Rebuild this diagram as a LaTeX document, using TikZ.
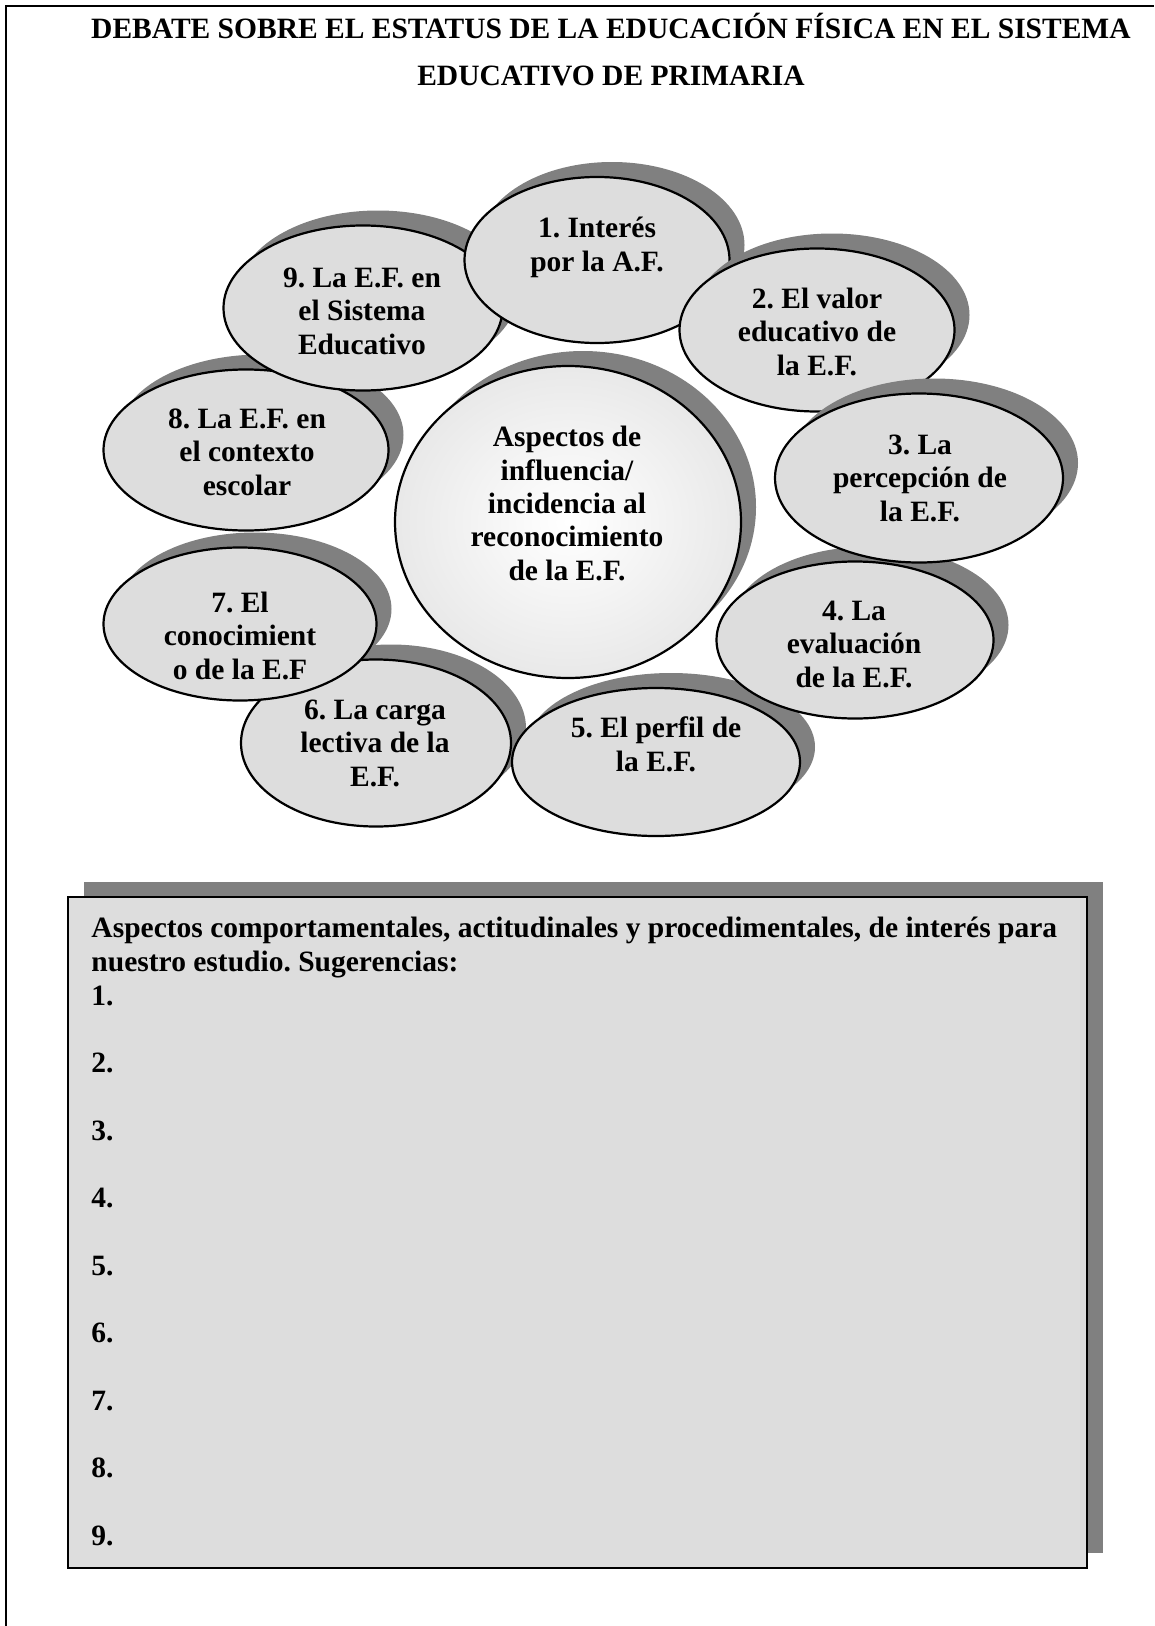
\documentclass[tikz,border=0pt]{standalone}
\usepackage{fontspec}
\setmainfont{Liberation Serif}
\usetikzlibrary{shapes.geometric,shadows}
\definecolor{bubfill}{HTML}{DDDDDD}
\definecolor{shade}{HTML}{808080}
\definecolor{hubedge}{HTML}{D2D2D2}
\pgfdeclareradialshading{hubshade}{\pgfpointorigin}{color(0bp)=(white); color(6bp)=(white!98!black); color(50bp)=(hubedge)}
\frenchspacing

\begin{document}
\begin{tikzpicture}[x=0.4067pt,y=-0.4067pt,
  shad/.style={drop shadow={shadow xshift=6.1pt, shadow yshift=6.1pt, fill=shade, opacity=1}},
  bub/.style n args={2}{ellipse, draw=black, line width=0.9pt, fill=bubfill, inner sep=0pt,
    minimum width=#1*0.4067pt, minimum height=#2*0.4067pt, shad},
  % multi-line labels are placed by the baseline of their last line
  lbl/.style={align=center, inner sep=0pt, anchor=base,
    font=\bfseries\fontsize{12}{13.55}\selectfont},
  titletext/.style={align=center, inner sep=0pt, anchor=base,
    font=\bfseries\fontsize{12}{19.5}\selectfont}
]
\path[use as bounding box] (0,0) rectangle (1154,1626);

% page frame (top and left rules)
\draw[line width=0.95pt] (6,1626) -- (6,6) -- (1154,6);

% heading
\node[titletext] (title) at (611,86) {DEBATE SOBRE EL ESTATUS DE LA EDUCACIÓN FÍSICA EN EL SISTEMA\\EDUCATIVO DE PRIMARIA};

% central hub
\node[ellipse, draw=black, line width=0.9pt, shading=hubshade, inner sep=0pt,
  minimum width=346*0.4067pt, minimum height=312*0.4067pt, shad] (hub) at (568,522) {};
\node[lbl] (hubtext) at (567,580) {Aspectos de\\influencia/\\incidencia al\\reconocimiento\\de la E.F.};

% surrounding bubbles
\node[bub={285}{161}] (e8) at (246,450) {};
\node[lbl] (t8) at (247,495) {8. La E.F. en\\el contexto\\escolar};

\node[bub={279}{165}] (e9) at (363,308) {};
\node[lbl] (t9) at (362,354) {9. La E.F. en\\el Sistema\\Educativo};

\node[bub={265}{166}] (e1) at (597,260) {};
\node[lbl] (t1) at (597,271) {1. Interés\\por la A.F.};

\node[bub={275}{163}] (e2) at (817,330) {};
\node[lbl] (t2) at (817,375) {2. El valor\\educativo de\\la E.F.};

\node[bub={270}{167}] (e6) at (376,743) {};
\node[lbl] (t6) at (375,786) {6. La carga\\lectiva de la\\E.F.};

\node[bub={273}{153}] (e7) at (240,624) {};
\node[lbl] (t7) at (240,679) {7. El\\conocimient\\o de la E.F};

\node[bub={288}{148}] (e5) at (656,762) {};
\node[lbl] (t5) at (656,771) {5. El perfil de\\la E.F.};

\node[bub={277}{157}] (e4) at (855,640) {};
\node[lbl] (t4) at (854,687) {4. La\\evaluación\\de la E.F.};

\node[bub={288}{169}] (e3) at (919,478) {};
\node[lbl] (t3) at (920,521) {3. La\\percepción de\\la E.F.};

% suggestions box
\node[rectangle, draw=black, line width=1pt, fill=bubfill, inner sep=0pt,
  minimum width=1019*0.4067pt, minimum height=671*0.4067pt,
  drop shadow={shadow xshift=6.5pt, shadow yshift=6.1pt, fill=shade, opacity=1}] (box) at (577.5,1232.5) {};
\node[align=left, inner sep=0pt, anchor=base west,
  font=\bfseries\fontsize{12}{13.72}\selectfont] (boxtext) at (91,1545)
  {Aspectos comportamentales, actitudinales y procedimentales, de interés para\\
   nuestro estudio. Sugerencias:\\
   1.\\[13.72pt] 2.\\[13.72pt] 3.\\[13.72pt] 4.\\[13.72pt] 5.\\[13.72pt] 6.\\[13.72pt] 7.\\[13.72pt] 8.\\[13.72pt] 9.};
\end{tikzpicture}
\end{document}
